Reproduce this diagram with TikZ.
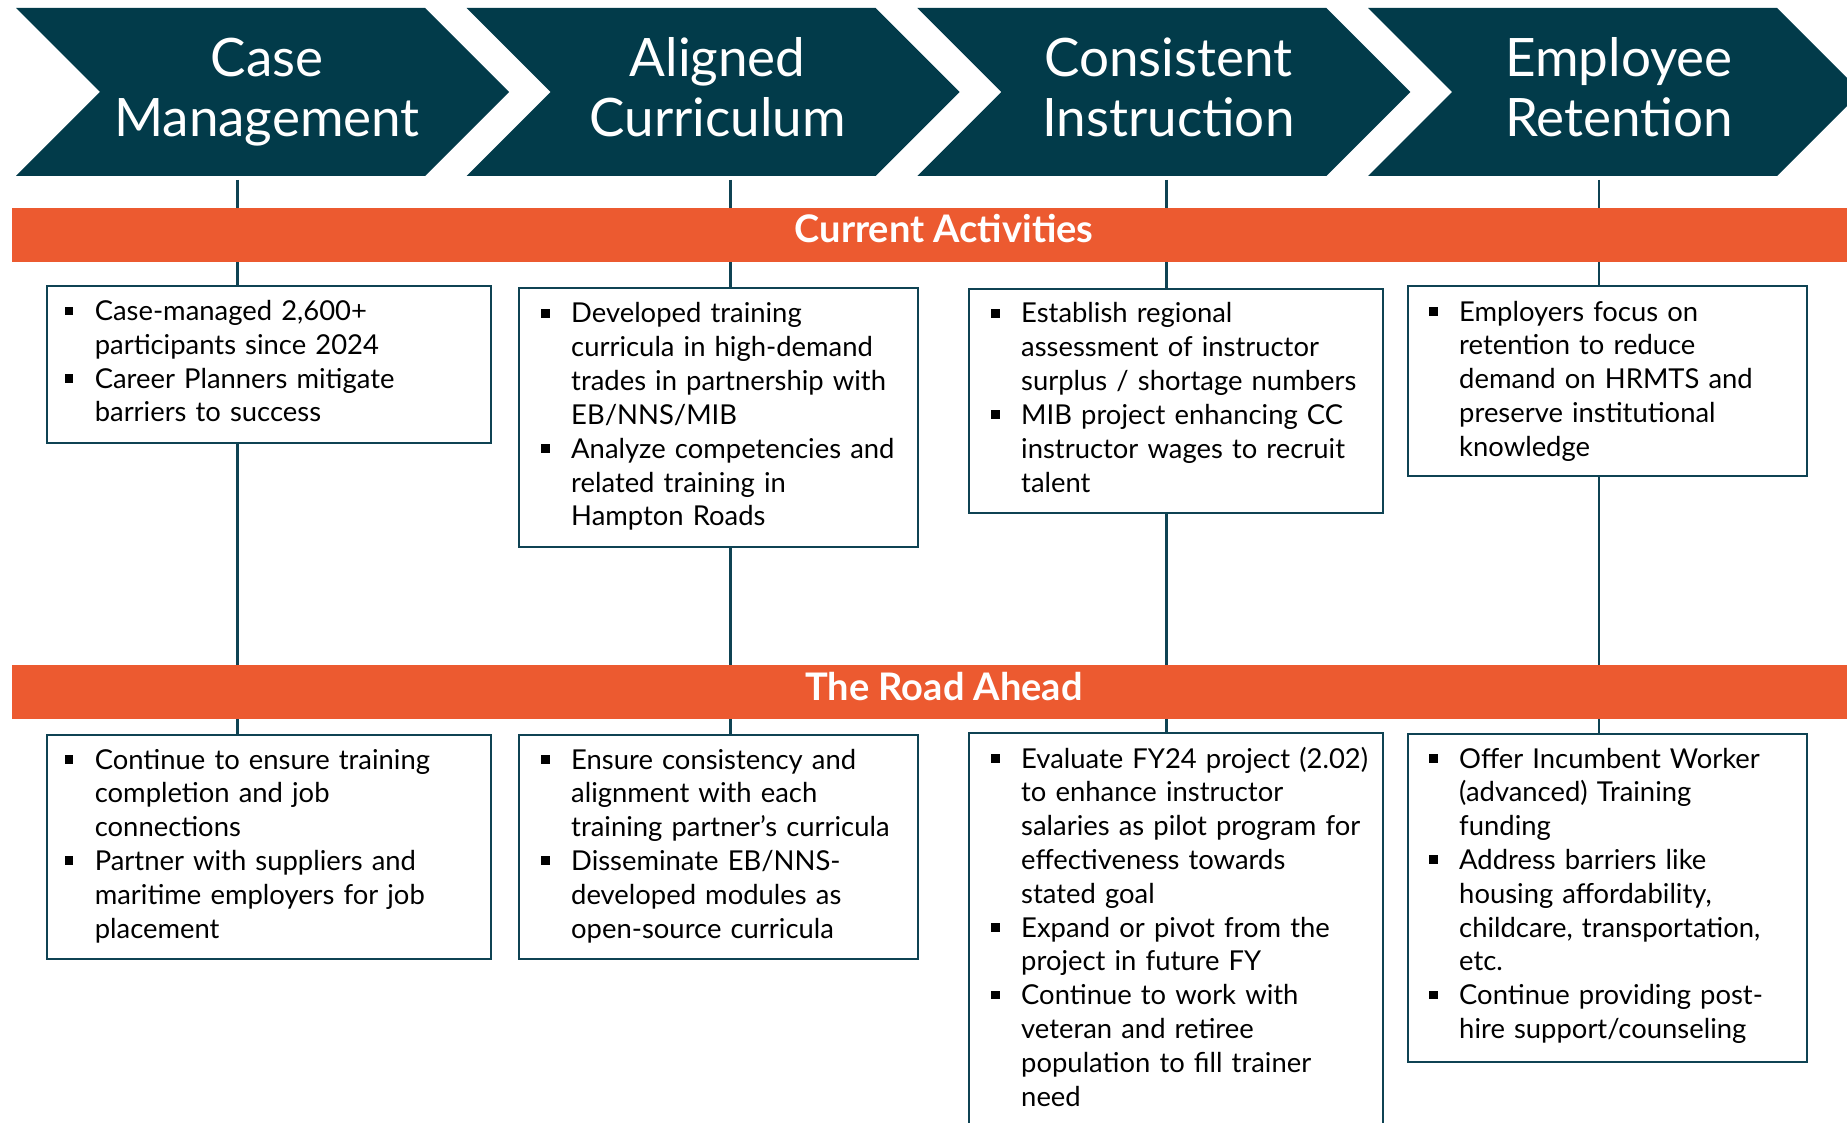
\documentclass[tikz,border=0pt]{standalone}
\usepackage{fontspec}
\setmainfont{Lato}
\definecolor{chevc}{HTML}{023B4A}
\definecolor{barc}{HTML}{EC5A30}
\definecolor{linec}{HTML}{0F4353}
\newcommand\bsqr{\llap{\raisebox{5.5pt}{\rule{8.5pt}{8.5pt}}\hspace{21.5pt}}}
\newcommand\bfirst{\noindent\bsqr}
\newcommand\bitem{\par\noindent\bsqr}
\tikzset{
  chev/.style={fill=chevc, draw=none},
  chevtxt/.style={text=white, anchor=base, inner sep=0pt, text width=420pt, align=center, font=\fontsize{53}{60}\selectfont},
  conn/.style={draw=linec, line width=2.4pt},
  barbox/.style={fill=barc, draw=none, anchor=north west, inner sep=0pt, minimum width=1850pt, minimum height=54pt},
  bartxt/.style={text=white, anchor=base, inner sep=0pt, font=\fontsize{38}{42}\selectfont\bfseries},
  infobox/.style={draw=linec, line width=2.2pt, fill=white, anchor=north west, inner sep=0pt},
  infotxt/.style={anchor=base west, inner sep=0pt, text width=420pt, align=left, font=\fontsize{27.4}{33.8}\selectfont}
}
\begin{document}
\begin{tikzpicture}[x=1pt, y=-1pt]
\useasboundingbox (0,0) rectangle (1847,1123);
\clip (0,0) rectangle (1847,1123);
\fill[white] (0,0) rectangle (1847,1123);
% chevrons
\foreach \L in {16, 466.7, 917.3, 1368}{
  \path[chev] (\L,8) -- (\L+409,8) -- (\L+493,92) -- (\L+409,176) -- (\L,176) -- (\L+84,92) -- cycle;
}
\node[chevtxt] (h1) at (267,77) {Case\\Management};
\node[chevtxt] (h2) at (717.7,77) {Aligned\\Curriculum};
\node[chevtxt] (h3) at (1168.3,77) {Consistent\\Instruction};
\node[chevtxt] (h4) at (1619,77) {Employee\\Retention};
% connector anchors
\coordinate (k1) at (237.5,180);
\coordinate (k2) at (730.5,180);
\coordinate (k3) at (1166.5,180);
\coordinate (k4) at (1599,180);
% boxes (current)
\node[infobox, minimum width=444pt, minimum height=157pt] (b1) at (46,285) {};
\node[infobox, minimum width=399pt, minimum height=259pt] (b2) at (518,287) {};
\node[infobox, minimum width=414pt, minimum height=224pt] (b3) at (968,288) {};
\node[infobox, minimum width=399pt, minimum height=190pt] (b4) at (1407,285) {};
% boxes (road ahead)
\node[infobox, minimum width=444pt, minimum height=224pt] (r1) at (46,734) {};
\node[infobox, minimum width=399pt, minimum height=224pt] (r2) at (518,734) {};
\node[infobox, minimum width=414pt, minimum height=420pt] (r3) at (968,732) {};
\node[infobox, minimum width=399pt, minimum height=328pt] (r4) at (1407,733) {};
% connectors
\foreach \k/\b/\r in {k1/b1/r1, k2/b2/r2, k3/b3/r3, k4/b4/r4}{
  \draw[conn] (\k) -- (\k |- \b.north);
  \draw[conn] (\k |- \b.south) -- (\k |- \r.north);
}
% bars
\node[barbox] (bar1) at (12,208) {};
\node[barbox] (bar2) at (12,665) {};
\node[bartxt] (bt1) at (944,243) {Current Activities};
\node[bartxt] (bt2) at (944,700) {The Road Ahead};
% texts
\node[infotxt] (t1) at (94.6,320.5) {\bfirst Case-managed 2,600+\\participants since 2024\bitem Career Planners mitigate\\barriers to success};
\node[infotxt] (t2) at (571,323) {\bfirst Developed training\\curricula in high-demand\\trades in partnership with\\EB/NNS/MIB\bitem Analyze competencies and\\related training in\\Hampton Roads};
\node[infotxt] (t3) at (1021,323) {\bfirst Establish regional\\assessment of instructor\\surplus / shortage numbers\bitem MIB project enhancing CC\\instructor wages to recruit\\talent};
\node[infotxt] (t4) at (1459,321) {\bfirst Employers focus on\\retention to reduce\\demand on HRMTS and\\preserve institutional\\knowledge};
\node[infotxt] (u1) at (94.6,769) {\bfirst Continue to ensure training\\completion and job\\connections\bitem Partner with suppliers and\\maritime employers for job\\placement};
\node[infotxt] (u2) at (571,769) {\bfirst Ensure consistency and\\alignment with each\\training partner’s curricula\bitem Disseminate EB/NNS-\\developed modules as\\open-source curricula};
\node[infotxt] (u3) at (1021,768) {\bfirst Evaluate FY24 project (2.02)\\to enhance instructor\\salaries as pilot program for\\effectiveness towards\\stated goal\bitem Expand or pivot from the\\project in future FY\bitem Continue to work with\\veteran and retiree\\population to fill trainer\\need};
\node[infotxt] (u4) at (1459,768) {\bfirst Offer Incumbent Worker\\(advanced) Training\\funding\bitem Address barriers like\\housing affordability,\\childcare, transportation,\\etc.\bitem Continue providing post-\\hire support/counseling};
\end{tikzpicture}
\end{document}
